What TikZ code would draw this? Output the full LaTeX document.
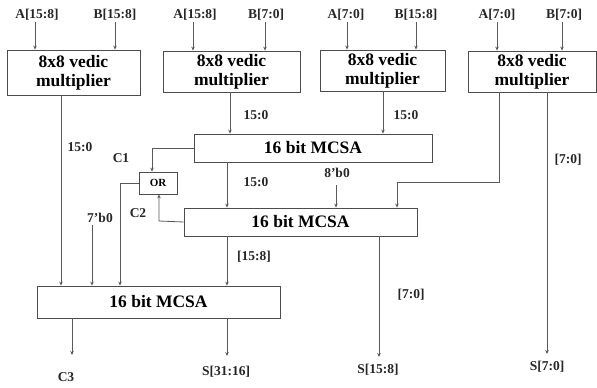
\documentclass[tikz,border=0pt]{standalone}
\usepackage{fontspec}
\setmainfont{Liberation Serif}[BoldFont=Liberation Serif Bold]
\usetikzlibrary{arrows.meta}
\begin{document}
\begin{tikzpicture}[x=1pt,y=-1pt,
  blk/.style={draw=black!70,line width=0.8pt,fill=white,inner sep=0pt,align=center,font=\fontsize{17.5}{19}\selectfont\bfseries},
  lbl/.style={font=\fontsize{13.5}{13.5}\selectfont\bfseries,text=black!85,inner sep=0pt},
  wire/.style={draw=black!65,line width=0.8pt,-{Stealth[length=4pt,width=3.5pt]}}]
\useasboundingbox (0,0) rectangle (597,388);
% vedic multipliers
\node[blk,minimum width=133pt,minimum height=45pt] (v1) at (73.5,72.5) {8x8 vedic\\multiplier};
\node[blk,minimum width=137pt,minimum height=41pt] (v2) at (231.5,71.5) {8x8 vedic\\multiplier};
\node[blk,minimum width=125pt,minimum height=41pt] (v3) at (382.5,70.5) {8x8 vedic\\multiplier};
\node[blk,minimum width=128pt,minimum height=41pt] (v4) at (532,71.5) {8x8 vedic\\multiplier};
% MCSAs
\node[blk,minimum width=238pt,minimum height=28pt] (m1) at (313,148) {16 bit MCSA};
\node[blk,minimum width=233pt,minimum height=28pt] (m2) at (300.5,222) {16 bit MCSA};
\node[blk,minimum width=243pt,minimum height=32pt] (m3) at (158.5,302) {16 bit MCSA};
\node[blk,minimum width=38pt,minimum height=22pt,font=\fontsize{11}{11}\selectfont\bfseries] (or) at (158,183) {OR};
% input labels
\node[lbl] (a1) at (37,15) {A[15:8]};
\node[lbl] (b1) at (115,15) {B[15:8]};
\node[lbl] (a2) at (195,15) {A[15:8]};
\node[lbl] (b2) at (266,15) {B[7:0]};
\node[lbl] (a3) at (346,15) {A[7:0]};
\node[lbl] (b3) at (416,15) {B[15:8]};
\node[lbl] (a4) at (497,15) {A[7:0]};
\node[lbl] (b4) at (564,15) {B[7:0]};
\coordinate (x1) at (35,22); \coordinate (x2) at (115,22);
\coordinate (x3) at (193,22); \coordinate (x4) at (265,22);
\coordinate (x5) at (347,22); \coordinate (x6) at (416,22);
\coordinate (x7) at (497,22); \coordinate (x8) at (562,22);
\draw[wire] (x1) -- (v1.north -| x1);
\draw[wire] (x2) -- (v1.north -| x2);
\draw[wire] (x3) -- (v2.north -| x3);
\draw[wire] (x4) -- (v2.north -| x4);
\draw[wire] (x5) -- (v3.north -| x5);
\draw[wire] (x6) -- (v3.north -| x6);
\draw[wire] (x7) -- (v4.north -| x7);
\draw[wire] (x8) -- (v4.north -| x8);
% wire labels
\node[lbl] (l1) at (80,147) {15:0};
\node[lbl] (l2) at (256,115) {15:0};
\node[lbl] (l3) at (406,115) {15:0};
\node[lbl] (l4) at (568,160) {[7:0]};
\node[lbl] (l5) at (256,182) {15:0};
\node[lbl] (l6) at (337,173) {8'b0};
\node[lbl] (l7) at (100,218) {7'b0};
\node[lbl] (c1) at (121,158) {C1};
\node[lbl] (c2) at (138,213) {C2};
\node[lbl] (l8) at (254,257) {[15:8]};
\node[lbl] (l9) at (411,295) {[7:0]};
% outputs
\node[lbl] (c3) at (66,377) {C3};
\node[lbl] (s1) at (226,372) {S[31:16]};
\node[lbl] (s2) at (378,370) {S[15:8]};
\node[lbl] (s3) at (547,367) {S[7:0]};
% connections
\coordinate (d1) at (61,0);
\draw[wire] (v1.south -| d1) -- (m3.north -| d1);
\coordinate (d2) at (230,0);
\draw[wire] (v2.south -| d2) -- (m1.north -| d2);
\coordinate (d3) at (383,0);
\draw[wire] (v3.south -| d3) -- (m1.north -| d3);
\coordinate (d4) at (499,182);
\coordinate (d4b) at (397,182);
\draw[wire] (v4.south -| d4) -- (d4) -- (d4b) -- (m2.north -| d4b);
\coordinate (d5) at (547,354);
\draw[wire] (v4.south -| d5) -- (d5);
\coordinate (d6) at (227,0);
\draw[wire] (m1.south -| d6) -- (m2.north -| d6);
\draw[wire] (m2.south -| d6) -- (m3.north -| d6);
\coordinate (d7) at (379,357);
\draw[wire] (m2.south -| d7) -- (d7);
\coordinate (d8) at (336,185);
\draw[wire] (d8) -- (m2.north -| d8);
\coordinate (d9) at (92,225);
\draw[wire] (d9) -- (m3.north -| d9);
% carry wires
\coordinate (e1) at (152,148);
\draw[wire] (m1.west) -- (e1) -- (or.north -| e1);
\coordinate (e2) at (159,221);
\draw[wire] (m2.west) -- (e2) -- (or.south -| e2);
\coordinate (e3) at (120,183);
\draw[wire] (or.west) -- (e3) -- (m3.north -| e3);
% final outputs
\coordinate (f1) at (72,355);
\draw[wire] (m3.south -| f1) -- (f1);
\coordinate (f2) at (227,356);
\draw[wire] (m3.south -| f2) -- (f2);
\end{tikzpicture}
\end{document}
